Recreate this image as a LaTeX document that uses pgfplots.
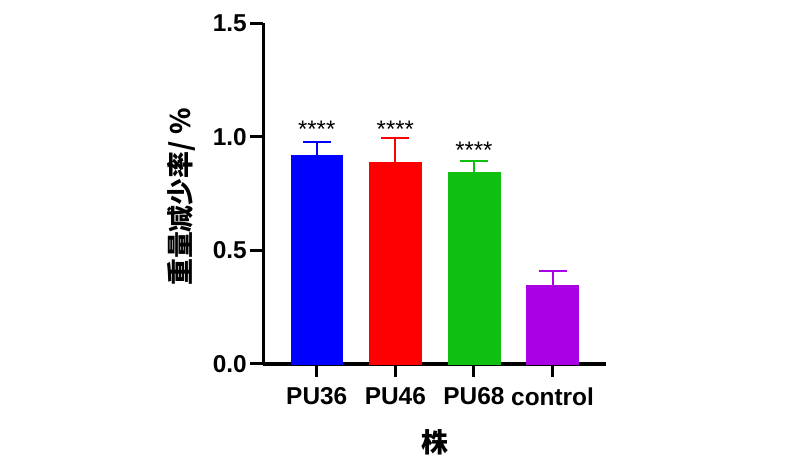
\documentclass[border=0pt]{standalone}
\usepackage{pgfplots}
\pgfplotsset{compat=1.18}
\usepackage{fontspec}
\setmainfont{Liberation Sans}
\newfontfamily\cjk{Noto Sans CJK SC}

\definecolor{cblue}{RGB}{0,0,255}
\definecolor{cred}{RGB}{255,0,0}
\definecolor{cgreen}{RGB}{16,192,16}
\definecolor{cpurple}{RGB}{170,0,230}

\begin{document}
\begin{tikzpicture}
\useasboundingbox (0,0) rectangle (800bp,469bp);
\begin{axis}[
    at={(263.3bp,105bp)}, anchor=south west,
    scale only axis,
    width=342.7bp, height=340.7bp,
    xmin=-0.68, xmax=3.68,
    ymin=0, ymax=1.5,
    axis x line*=bottom, axis y line*=left,
    axis line style={line width=3.3bp, -},
    every tick/.style={line width=3bp, black},
    major tick length=13bp,
    tick align=outside,
    xtick={0,1,2,3},
    xticklabels={PU36,PU46,PU68,control},
    ytick={0,0.5,1.0,1.5},
    yticklabel style={/pgf/number format/.cd, fixed, fixed zerofill, precision=1},
    /pgf/number format/assume math mode=true,
    tick label style={font=\fontsize{24.5}{28}\selectfont\bfseries},
    xticklabel style={yshift=-7bp},
    ybar, bar width=0.66, bar shift=0pt,
    xlabel={\cjk\bfseries 株},
    ylabel={\cjk\bfseries 重量减少率/ \%},
    label style={font=\fontsize{27}{32}\selectfont},
    xlabel style={at={(axis description cs:0.5,0)}, anchor=center, yshift=-78bp},
    ylabel style={at={(axis description cs:0,0.49)}, anchor=center, yshift=81.6bp},
    error bars/y dir=plus, error bars/y explicit,
    clip=false,
]
\addplot[fill=cblue, draw=cblue, error bars/error bar style={cblue, line width=2bp}, error bars/error mark options={cblue, rotate=90, mark size=14bp, line width=2bp}]
    coordinates {(0,0.918) +- (0,0.061)};
\addplot[fill=cred, draw=cred, error bars/error bar style={cred, line width=2bp}, error bars/error mark options={cred, rotate=90, mark size=14bp, line width=2bp}]
    coordinates {(1,0.890) +- (0,0.104)};
\addplot[fill=cgreen, draw=cgreen, error bars/error bar style={cgreen, line width=2bp}, error bars/error mark options={cgreen, rotate=90, mark size=14bp, line width=2bp}]
    coordinates {(2,0.845) +- (0,0.049)};
\addplot[fill=cpurple, draw=cpurple, error bars/error bar style={cpurple, line width=2bp}, error bars/error mark options={cpurple, rotate=90, mark size=14bp, line width=2bp}]
    coordinates {(3,0.345) +- (0,0.063)};
\node[font=\fontsize{24}{28}\selectfont] at (axis cs:0,1.035) {****};
\node[font=\fontsize{24}{28}\selectfont] at (axis cs:1,1.035) {****};
\node[font=\fontsize{24}{28}\selectfont] at (axis cs:2,0.940) {****};
\end{axis}
\end{tikzpicture}
\end{document}
